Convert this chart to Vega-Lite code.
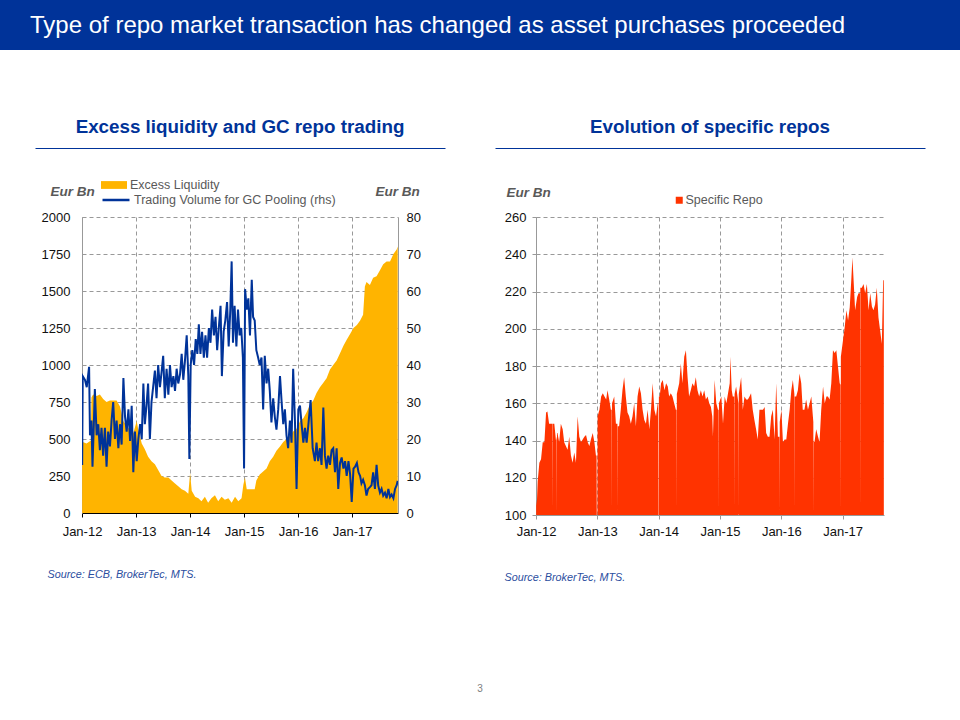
{
  "$schema": "https://vega.github.io/schema/vega-lite/v6.json",
  "padding": 0,
  "background": "white",
  "bounds": "full",
  "center": true,
  "spacing": 68,
  "resolve": {"scale": {"fill": "independent", "stroke": "independent"}},
  "title": {"text": "3", "orient": "bottom", "anchor": "middle", "offset": 102, "fontSize": 10, "fontWeight": "normal", "color": "#808080"},
  "config": {
    "font": "Liberation Sans",
    "view": {"stroke": null},
    "axis": {"labelFont": "Liberation Sans", "labelFontSize": 13, "labelColor": "#111111", "titleFont": "Liberation Sans", "gridColor": "#999999", "gridDash": [4, 3], "gridWidth": 1, "domainColor": "#999999", "tickColor": "#999999", "labelFlush": false, "labelOverlap": false}
  },
  "vconcat": [
    {
      "width": 960,
      "height": 50,
      "view": {"fill": "#003399", "stroke": null},
      "data": {"values": [{"label": "Type of repo market transaction has changed as asset purchases proceeded"}]},
      "mark": {"type": "text", "align": "left", "baseline": "middle", "fontSize": 24, "color": "#ffffff", "font": "Liberation Sans"},
      "encoding": {"text": {"field": "label"}, "x": {"value": 30}, "y": {"value": 26}}
    },
    {
      "bounds": "full",
      "spacing": 50,
      "resolve": {"scale": {"fill": "independent", "stroke": "independent"}},
      "hconcat": [
        {
          "bounds": "flush",
          "center": true,
          "spacing": 69,
          "resolve": {"scale": {"fill": "independent", "stroke": "independent"}},
          "vconcat": [
            {
              "width": 410,
              "height": 1,
              "title": {"text": "Excess liquidity and GC repo trading", "fontSize": 18.8, "fontWeight": "bold", "color": "#003399", "anchor": "middle", "offset": 10},
              "data": {"values": [{"v": 0}, {"v": 1}]},
              "mark": {"type": "point", "opacity": 0, "size": 0},
              "encoding": {"x": {"field": "v", "type": "quantitative", "scale": {"domain": [0, 1]}, "axis": {"domain": true, "domainColor": "#003399", "domainWidth": 1, "ticks": false, "labels": false, "grid": false, "title": null}}}
            },
            {
              "width": 316,
              "height": 296,
              "resolve": {"scale": {"y": "independent", "fill": "independent", "stroke": "independent"}},
              "layer": [
                {
                  "data": {"values": [
                    {"date": "2012-01-02", "liquidity": 500}, {"date": "2012-01-06", "liquidity": 480}, {"date": "2012-02-01", "liquidity": 470}, {"date": "2012-03-01", "liquidity": 490}, {"date": "2012-03-05", "liquidity": 780}, {"date": "2012-03-16", "liquidity": 800}, {"date": "2012-04-09", "liquidity": 790}, {"date": "2012-05-01", "liquidity": 800}, {"date": "2012-05-23", "liquidity": 770}, {"date": "2012-06-15", "liquidity": 750}, {"date": "2012-07-08", "liquidity": 760}, {"date": "2012-07-30", "liquidity": 760}, {"date": "2012-08-22", "liquidity": 760}, {"date": "2012-09-14", "liquidity": 720}, {"date": "2012-10-07", "liquidity": 620}, {"date": "2012-10-29", "liquidity": 590}, {"date": "2012-11-21", "liquidity": 560}, {"date": "2012-12-13", "liquidity": 540}, {"date": "2013-01-05", "liquidity": 620}, {"date": "2013-01-16", "liquidity": 560}, {"date": "2013-02-08", "liquidity": 470}, {"date": "2013-03-01", "liquidity": 430}, {"date": "2013-03-23", "liquidity": 380}, {"date": "2013-04-15", "liquidity": 350}, {"date": "2013-05-08", "liquidity": 330}, {"date": "2013-05-30", "liquidity": 290}, {"date": "2013-06-22", "liquidity": 250}, {"date": "2013-07-14", "liquidity": 240}, {"date": "2013-08-07", "liquidity": 240}, {"date": "2013-08-29", "liquidity": 220}, {"date": "2013-09-21", "liquidity": 200}, {"date": "2013-10-13", "liquidity": 180}, {"date": "2013-11-05", "liquidity": 160}, {"date": "2013-11-27", "liquidity": 150}, {"date": "2013-12-20", "liquidity": 130}, {"date": "2014-01-01", "liquidity": 270}, {"date": "2014-01-12", "liquidity": 150}, {"date": "2014-02-04", "liquidity": 110}, {"date": "2014-02-26", "liquidity": 100}, {"date": "2014-03-19", "liquidity": 80}, {"date": "2014-04-11", "liquidity": 110}, {"date": "2014-05-03", "liquidity": 70}, {"date": "2014-05-25", "liquidity": 100}, {"date": "2014-06-18", "liquidity": 120}, {"date": "2014-07-10", "liquidity": 80}, {"date": "2014-08-02", "liquidity": 110}, {"date": "2014-08-24", "liquidity": 90}, {"date": "2014-09-17", "liquidity": 100}, {"date": "2014-10-09", "liquidity": 70}, {"date": "2014-11-01", "liquidity": 110}, {"date": "2014-11-23", "liquidity": 80}, {"date": "2014-12-15", "liquidity": 100}, {"date": "2014-12-27", "liquidity": 190}, {"date": "2015-01-07", "liquidity": 240}, {"date": "2015-01-19", "liquidity": 160}, {"date": "2015-02-10", "liquidity": 160}, {"date": "2015-03-14", "liquidity": 160}, {"date": "2015-03-25", "liquidity": 220}, {"date": "2015-04-17", "liquidity": 260}, {"date": "2015-05-10", "liquidity": 280}, {"date": "2015-06-02", "liquidity": 300}, {"date": "2015-06-24", "liquidity": 350}, {"date": "2015-07-17", "liquidity": 380}, {"date": "2015-08-08", "liquidity": 420}, {"date": "2015-09-01", "liquidity": 450}, {"date": "2015-09-23", "liquidity": 480}, {"date": "2015-10-15", "liquidity": 500}, {"date": "2015-11-07", "liquidity": 520}, {"date": "2015-11-29", "liquidity": 550}, {"date": "2015-12-22", "liquidity": 570}, {"date": "2016-01-14", "liquidity": 620}, {"date": "2016-02-06", "liquidity": 640}, {"date": "2016-02-28", "liquidity": 680}, {"date": "2016-03-21", "liquidity": 730}, {"date": "2016-04-13", "liquidity": 760}, {"date": "2016-05-05", "liquidity": 810}, {"date": "2016-05-28", "liquidity": 850}, {"date": "2016-06-20", "liquidity": 880}, {"date": "2016-07-12", "liquidity": 910}, {"date": "2016-08-04", "liquidity": 970}, {"date": "2016-08-26", "liquidity": 1000}, {"date": "2016-09-18", "liquidity": 1030}, {"date": "2016-10-11", "liquidity": 1080}, {"date": "2016-11-03", "liquidity": 1130}, {"date": "2016-11-25", "liquidity": 1170}, {"date": "2016-12-18", "liquidity": 1210}, {"date": "2017-01-10", "liquidity": 1250}, {"date": "2017-02-02", "liquidity": 1270}, {"date": "2017-02-24", "liquidity": 1300}, {"date": "2017-03-16", "liquidity": 1340}, {"date": "2017-03-28", "liquidity": 1530}, {"date": "2017-04-08", "liquidity": 1560}, {"date": "2017-05-01", "liquidity": 1540}, {"date": "2017-05-23", "liquidity": 1590}, {"date": "2017-06-15", "liquidity": 1600}, {"date": "2017-07-08", "liquidity": 1640}, {"date": "2017-07-30", "liquidity": 1680}, {"date": "2017-08-22", "liquidity": 1700}, {"date": "2017-09-14", "liquidity": 1700}, {"date": "2017-10-07", "liquidity": 1750}, {"date": "2017-10-29", "liquidity": 1780}, {"date": "2017-11-05", "liquidity": 1800}
                  ]},
                  "mark": {"type": "area", "clip": true},
                  "encoding": {
                    "x": {"field": "date", "type": "temporal",
                      "scale": {"type": "utc", "domain": [{"year": 2012, "month": 1, "date": 1, "utc": true}, {"year": 2017, "month": 11, "date": 7, "utc": true}]},
                      "axis": {"values": [{"year": 2012, "month": 1, "date": 1, "utc": true}, {"year": 2013, "month": 1, "date": 1, "utc": true}, {"year": 2014, "month": 1, "date": 1, "utc": true}, {"year": 2015, "month": 1, "date": 1, "utc": true}, {"year": 2016, "month": 1, "date": 1, "utc": true}, {"year": 2017, "month": 1, "date": 1, "utc": true}],
                        "labelExpr": "utcFormat(datum.value, '%b-%y')", "grid": true, "domainColor": "#000000", "tickColor": "#000000", "tickSize": 4, "labelPadding": 8,
                        "title": "Source: ECB, BrokerTec, MTS.", "titleFontSize": 10.8, "titleFontStyle": "italic", "titleFontWeight": "normal", "titleColor": "#2B4EA0", "titleAlign": "left", "titleBaseline": "middle", "titleX": -35, "titleY": 61}},
                    "y": {"field": "liquidity", "type": "quantitative", "scale": {"domain": [0, 2000], "nice": false},
                      "axis": {"orient": "left", "values": [0, 250, 500, 750, 1000, 1250, 1500, 1750, 2000], "format": "d", "ticks": false, "labelPadding": 12, "grid": true,
                        "title": "Eur Bn", "titleAngle": 0, "titleAlign": "left", "titleBaseline": "middle", "titleX": -32, "titleY": -26, "titleFontSize": 13.5, "titleFontStyle": "italic", "titleFontWeight": "bold", "titleColor": "#595959"}},
                    "fill": {"datum": "Excess Liquidity", "type": "nominal", "scale": {"range": ["#FFB400"]},
                      "legend": {"orient": "none", "legendX": 19, "legendY": -45, "title": null, "symbolType": "M-1,-0.3H1V0.3H-1Z", "symbolSize": 676, "symbolStrokeWidth": 0, "labelFontSize": 12.5, "labelColor": "#595959", "labelFont": "Liberation Sans", "labelOffset": 3, "labelLimit": 400, "padding": 0}}
                  }
                },
                {
                  "data": {"values": [
                    {"date": "2012-01-02", "volume": 13}, {"date": "2012-01-06", "volume": 37}, {"date": "2012-01-21", "volume": 36}, {"date": "2012-02-02", "volume": 34}, {"date": "2012-02-18", "volume": 39.5}, {"date": "2012-02-24", "volume": 21}, {"date": "2012-03-05", "volume": 25}, {"date": "2012-03-12", "volume": 12.5}, {"date": "2012-03-21", "volume": 24}, {"date": "2012-03-28", "volume": 33.5}, {"date": "2012-04-09", "volume": 21}, {"date": "2012-04-20", "volume": 24}, {"date": "2012-05-01", "volume": 17}, {"date": "2012-05-12", "volume": 23}, {"date": "2012-05-23", "volume": 15.5}, {"date": "2012-06-04", "volume": 23}, {"date": "2012-06-15", "volume": 12.5}, {"date": "2012-06-26", "volume": 22}, {"date": "2012-07-08", "volume": 18}, {"date": "2012-07-19", "volume": 25}, {"date": "2012-07-30", "volume": 30}, {"date": "2012-08-11", "volume": 20}, {"date": "2012-08-22", "volume": 25}, {"date": "2012-09-03", "volume": 17.5}, {"date": "2012-09-14", "volume": 24}, {"date": "2012-09-25", "volume": 18.5}, {"date": "2012-10-07", "volume": 36.5}, {"date": "2012-10-18", "volume": 26}, {"date": "2012-10-29", "volume": 22}, {"date": "2012-11-10", "volume": 28}, {"date": "2012-11-21", "volume": 19.5}, {"date": "2012-12-02", "volume": 29}, {"date": "2012-12-13", "volume": 11}, {"date": "2012-12-24", "volume": 22},
                    {"date": "2013-01-05", "volume": 14}, {"date": "2013-01-16", "volume": 20}, {"date": "2013-01-28", "volume": 24}, {"date": "2013-02-08", "volume": 20}, {"date": "2013-02-19", "volume": 35}, {"date": "2013-03-01", "volume": 24}, {"date": "2013-03-12", "volume": 29}, {"date": "2013-03-23", "volume": 35}, {"date": "2013-04-04", "volume": 20}, {"date": "2013-04-15", "volume": 30}, {"date": "2013-04-26", "volume": 34}, {"date": "2013-05-08", "volume": 38.5}, {"date": "2013-05-19", "volume": 31}, {"date": "2013-05-30", "volume": 40}, {"date": "2013-06-11", "volume": 34}, {"date": "2013-06-22", "volume": 38}, {"date": "2013-07-03", "volume": 42.5}, {"date": "2013-07-14", "volume": 31}, {"date": "2013-07-26", "volume": 39}, {"date": "2013-08-07", "volume": 32}, {"date": "2013-08-18", "volume": 40}, {"date": "2013-08-29", "volume": 34}, {"date": "2013-09-10", "volume": 37}, {"date": "2013-09-21", "volume": 33}, {"date": "2013-10-02", "volume": 39}, {"date": "2013-10-13", "volume": 35}, {"date": "2013-10-25", "volume": 37.5}, {"date": "2013-11-05", "volume": 43}, {"date": "2013-11-16", "volume": 36}, {"date": "2013-11-27", "volume": 41}, {"date": "2013-12-09", "volume": 48}, {"date": "2013-12-20", "volume": 37}, {"date": "2013-12-27", "volume": 14.6},
                    {"date": "2014-01-05", "volume": 40}, {"date": "2014-01-16", "volume": 44}, {"date": "2014-01-28", "volume": 40}, {"date": "2014-02-08", "volume": 47}, {"date": "2014-02-19", "volume": 43}, {"date": "2014-03-01", "volume": 51}, {"date": "2014-03-12", "volume": 43}, {"date": "2014-03-23", "volume": 49}, {"date": "2014-04-04", "volume": 42}, {"date": "2014-04-15", "volume": 48}, {"date": "2014-04-26", "volume": 42}, {"date": "2014-05-08", "volume": 50}, {"date": "2014-05-19", "volume": 46}, {"date": "2014-05-30", "volume": 55}, {"date": "2014-06-11", "volume": 48}, {"date": "2014-06-22", "volume": 53}, {"date": "2014-07-03", "volume": 44}, {"date": "2014-07-14", "volume": 50}, {"date": "2014-07-26", "volume": 56}, {"date": "2014-08-04", "volume": 37}, {"date": "2014-08-16", "volume": 49}, {"date": "2014-08-27", "volume": 52}, {"date": "2014-09-08", "volume": 57}, {"date": "2014-09-19", "volume": 45}, {"date": "2014-09-30", "volume": 55}, {"date": "2014-10-09", "volume": 68}, {"date": "2014-10-18", "volume": 46}, {"date": "2014-10-29", "volume": 56}, {"date": "2014-11-10", "volume": 45}, {"date": "2014-11-21", "volume": 55}, {"date": "2014-12-02", "volume": 48}, {"date": "2014-12-13", "volume": 50}, {"date": "2014-12-24", "volume": 42},
                    {"date": "2015-01-01", "volume": 12}, {"date": "2015-01-08", "volume": 60.5}, {"date": "2015-01-19", "volume": 55}, {"date": "2015-01-30", "volume": 58}, {"date": "2015-02-10", "volume": 48}, {"date": "2015-02-22", "volume": 63}, {"date": "2015-03-03", "volume": 53}, {"date": "2015-03-14", "volume": 52}, {"date": "2015-03-25", "volume": 44}, {"date": "2015-04-06", "volume": 42}, {"date": "2015-04-17", "volume": 40}, {"date": "2015-04-29", "volume": 42}, {"date": "2015-05-10", "volume": 28}, {"date": "2015-05-21", "volume": 42.5}, {"date": "2015-06-02", "volume": 35}, {"date": "2015-06-13", "volume": 39}, {"date": "2015-06-24", "volume": 33}, {"date": "2015-07-05", "volume": 24.5}, {"date": "2015-07-17", "volume": 31}, {"date": "2015-07-28", "volume": 26}, {"date": "2015-08-08", "volume": 22.5}, {"date": "2015-08-20", "volume": 28}, {"date": "2015-09-01", "volume": 37}, {"date": "2015-09-12", "volume": 30}, {"date": "2015-09-23", "volume": 24}, {"date": "2015-10-04", "volume": 28}, {"date": "2015-10-15", "volume": 21}, {"date": "2015-10-26", "volume": 17.5}, {"date": "2015-11-07", "volume": 25}, {"date": "2015-11-18", "volume": 19}, {"date": "2015-11-29", "volume": 39}, {"date": "2015-12-11", "volume": 25}, {"date": "2015-12-22", "volume": 6.5},
                    {"date": "2016-01-03", "volume": 28}, {"date": "2016-01-14", "volume": 29}, {"date": "2016-01-25", "volume": 24}, {"date": "2016-02-06", "volume": 19}, {"date": "2016-02-17", "volume": 23}, {"date": "2016-02-28", "volume": 19}, {"date": "2016-03-10", "volume": 23.5}, {"date": "2016-03-26", "volume": 30.5}, {"date": "2016-04-09", "volume": 17.5}, {"date": "2016-04-24", "volume": 14}, {"date": "2016-05-05", "volume": 19}, {"date": "2016-05-16", "volume": 14}, {"date": "2016-05-28", "volume": 17.5}, {"date": "2016-06-08", "volume": 13}, {"date": "2016-06-20", "volume": 28.5}, {"date": "2016-07-01", "volume": 15.5}, {"date": "2016-07-12", "volume": 12}, {"date": "2016-07-23", "volume": 15.5}, {"date": "2016-08-04", "volume": 13}, {"date": "2016-08-15", "volume": 17}, {"date": "2016-08-26", "volume": 17.5}, {"date": "2016-09-07", "volume": 11}, {"date": "2016-09-18", "volume": 17.5}, {"date": "2016-09-29", "volume": 6.5}, {"date": "2016-10-11", "volume": 13.5}, {"date": "2016-10-22", "volume": 15}, {"date": "2016-11-03", "volume": 12}, {"date": "2016-11-14", "volume": 14}, {"date": "2016-11-25", "volume": 10}, {"date": "2016-12-07", "volume": 14}, {"date": "2016-12-18", "volume": 10.5}, {"date": "2016-12-29", "volume": 3},
                    {"date": "2017-01-10", "volume": 12}, {"date": "2017-01-21", "volume": 12.5}, {"date": "2017-02-02", "volume": 13.5}, {"date": "2017-02-13", "volume": 11}, {"date": "2017-02-24", "volume": 10}, {"date": "2017-03-05", "volume": 8}, {"date": "2017-03-16", "volume": 9}, {"date": "2017-03-28", "volume": 7.5}, {"date": "2017-04-08", "volume": 4.7}, {"date": "2017-04-19", "volume": 6.5}, {"date": "2017-05-01", "volume": 7}, {"date": "2017-05-12", "volume": 7.5}, {"date": "2017-05-23", "volume": 11}, {"date": "2017-06-04", "volume": 6.5}, {"date": "2017-06-15", "volume": 13}, {"date": "2017-06-26", "volume": 7.5}, {"date": "2017-07-08", "volume": 5.5}, {"date": "2017-07-19", "volume": 6.5}, {"date": "2017-07-30", "volume": 4.7}, {"date": "2017-08-11", "volume": 5.5}, {"date": "2017-08-22", "volume": 4}, {"date": "2017-09-03", "volume": 6.5}, {"date": "2017-09-14", "volume": 4.3}, {"date": "2017-09-25", "volume": 5}, {"date": "2017-10-07", "volume": 4}, {"date": "2017-10-18", "volume": 6.5}, {"date": "2017-10-29", "volume": 7.5}, {"date": "2017-11-05", "volume": 8.7}
                  ]},
                  "mark": {"type": "line", "strokeWidth": 2, "clip": true},
                  "encoding": {
                    "x": {"field": "date", "type": "temporal"},
                    "y": {"field": "volume", "type": "quantitative", "scale": {"domain": [0, 80], "nice": false},
                      "axis": {"orient": "right", "values": [0, 10, 20, 30, 40, 50, 60, 70, 80], "format": "d", "ticks": false, "labelPadding": 8, "grid": false,
                        "title": "Eur Bn", "titleAngle": 0, "titleAlign": "left", "titleBaseline": "middle", "titleX": -23, "titleY": -26, "titleFontSize": 13.5, "titleFontStyle": "italic", "titleFontWeight": "bold", "titleColor": "#595959"}},
                    "stroke": {"datum": "Trading Volume for  GC Pooling (rhs)", "type": "nominal", "scale": {"range": ["#003399"]},
                      "legend": {"orient": "none", "legendX": 19, "legendY": -32, "title": null, "symbolType": "stroke", "symbolSize": 729, "symbolStrokeWidth": 2.5, "labelFontSize": 12.5, "labelColor": "#595959", "labelFont": "Liberation Sans", "labelOffset": 3, "labelLimit": 400, "padding": 0}}
                  }
                }
              ]
            }
          ]
        },
        {
          "bounds": "flush",
          "center": true,
          "spacing": 69,
          "resolve": {"scale": {"fill": "independent", "stroke": "independent"}},
          "vconcat": [
            {
              "width": 430,
              "height": 1,
              "title": {"text": "Evolution of specific repos", "fontSize": 18.8, "fontWeight": "bold", "color": "#003399", "anchor": "middle", "offset": 10},
              "data": {"values": [{"v": 0}, {"v": 1}]},
              "mark": {"type": "point", "opacity": 0, "size": 0},
              "encoding": {"x": {"field": "v", "type": "quantitative", "scale": {"domain": [0, 1]}, "axis": {"domain": true, "domainColor": "#003399", "domainWidth": 1, "ticks": false, "labels": false, "grid": false, "title": null}}}
            },
            {
              "width": 348,
              "height": 298,
              "data": {"values": [
                {"date": "2012-01-02", "repo": 105}, {"date": "2012-01-07", "repo": 108.5}, {"date": "2012-01-11", "repo": 118}, {"date": "2012-01-21", "repo": 128}, {"date": "2012-01-31", "repo": 130}, {"date": "2012-02-10", "repo": 139}, {"date": "2012-02-20", "repo": 139}, {"date": "2012-03-01", "repo": 155}, {"date": "2012-03-09", "repo": 155.6}, {"date": "2012-03-19", "repo": 149}, {"date": "2012-03-29", "repo": 149}, {"date": "2012-04-08", "repo": 149}, {"date": "2012-04-09", "repo": 100}, {"date": "2012-04-10", "repo": 149}, {"date": "2012-04-19", "repo": 149}, {"date": "2012-04-29", "repo": 140}, {"date": "2012-05-03", "repo": 142}, {"date": "2012-05-04", "repo": 100}, {"date": "2012-05-05", "repo": 144}, {"date": "2012-05-08", "repo": 144}, {"date": "2012-05-18", "repo": 139}, {"date": "2012-05-28", "repo": 149}, {"date": "2012-06-08", "repo": 146}, {"date": "2012-06-17", "repo": 139}, {"date": "2012-06-27", "repo": 137}, {"date": "2012-07-07", "repo": 135}, {"date": "2012-07-17", "repo": 142}, {"date": "2012-07-27", "repo": 132}, {"date": "2012-08-06", "repo": 128}, {"date": "2012-08-16", "repo": 133.6}, {"date": "2012-08-26", "repo": 128}, {"date": "2012-09-05", "repo": 153}, {"date": "2012-09-15", "repo": 142}, {"date": "2012-09-25", "repo": 139}, {"date": "2012-10-05", "repo": 140.5}, {"date": "2012-10-15", "repo": 142}, {"date": "2012-10-25", "repo": 143}, {"date": "2012-11-04", "repo": 139}, {"date": "2012-11-14", "repo": 137}, {"date": "2012-11-23", "repo": 140.5}, {"date": "2012-12-04", "repo": 144}, {"date": "2012-12-14", "repo": 139}, {"date": "2012-12-23", "repo": 132}, {"date": "2012-12-27", "repo": 132}, {"date": "2012-12-28", "repo": 100}, {"date": "2013-01-01", "repo": 100},
                {"date": "2013-01-02", "repo": 153}, {"date": "2013-01-13", "repo": 156.5}, {"date": "2013-01-23", "repo": 163.6}, {"date": "2013-02-02", "repo": 165.4}, {"date": "2013-02-12", "repo": 163.6}, {"date": "2013-02-22", "repo": 162}, {"date": "2013-03-02", "repo": 167}, {"date": "2013-03-12", "repo": 162}, {"date": "2013-03-22", "repo": 156.5}, {"date": "2013-03-27", "repo": 156.5}, {"date": "2013-03-28", "repo": 100}, {"date": "2013-03-29", "repo": 160}, {"date": "2013-04-11", "repo": 163.6}, {"date": "2013-04-21", "repo": 149}, {"date": "2013-04-30", "repo": 149}, {"date": "2013-05-01", "repo": 100}, {"date": "2013-05-02", "repo": 147.6}, {"date": "2013-05-10", "repo": 147.6}, {"date": "2013-05-20", "repo": 156.5}, {"date": "2013-05-30", "repo": 167}, {"date": "2013-06-09", "repo": 174}, {"date": "2013-06-19", "repo": 163.6}, {"date": "2013-06-29", "repo": 155}, {"date": "2013-07-09", "repo": 153}, {"date": "2013-07-19", "repo": 149}, {"date": "2013-07-29", "repo": 153}, {"date": "2013-08-08", "repo": 160}, {"date": "2013-08-18", "repo": 147.6}, {"date": "2013-08-28", "repo": 163.6}, {"date": "2013-09-07", "repo": 169}, {"date": "2013-09-17", "repo": 165.4}, {"date": "2013-09-27", "repo": 156.5}, {"date": "2013-10-07", "repo": 151}, {"date": "2013-10-17", "repo": 149}, {"date": "2013-10-27", "repo": 156.5}, {"date": "2013-11-06", "repo": 146}, {"date": "2013-11-16", "repo": 156.5}, {"date": "2013-11-26", "repo": 170.8}, {"date": "2013-12-06", "repo": 156.5}, {"date": "2013-12-16", "repo": 153}, {"date": "2013-12-26", "repo": 160}, {"date": "2013-12-29", "repo": 160}, {"date": "2013-12-30", "repo": 100}, {"date": "2014-01-01", "repo": 100},
                {"date": "2014-01-02", "repo": 163.6}, {"date": "2014-01-07", "repo": 163.6}, {"date": "2014-01-15", "repo": 170.8}, {"date": "2014-01-25", "repo": 172.5}, {"date": "2014-02-04", "repo": 167}, {"date": "2014-02-14", "repo": 170.8}, {"date": "2014-02-24", "repo": 169}, {"date": "2014-03-04", "repo": 163.6}, {"date": "2014-03-14", "repo": 165.4}, {"date": "2014-03-24", "repo": 163.6}, {"date": "2014-04-03", "repo": 160}, {"date": "2014-04-13", "repo": 156.5}, {"date": "2014-04-17", "repo": 156.5}, {"date": "2014-04-18", "repo": 100}, {"date": "2014-04-19", "repo": 165}, {"date": "2014-05-03", "repo": 170.8}, {"date": "2014-05-13", "repo": 181.4}, {"date": "2014-05-22", "repo": 170.8}, {"date": "2014-06-02", "repo": 185}, {"date": "2014-06-12", "repo": 188.5}, {"date": "2014-06-22", "repo": 174}, {"date": "2014-07-01", "repo": 163.6}, {"date": "2014-07-11", "repo": 167}, {"date": "2014-07-21", "repo": 170.8}, {"date": "2014-07-31", "repo": 169}, {"date": "2014-08-10", "repo": 174}, {"date": "2014-08-20", "repo": 167}, {"date": "2014-08-30", "repo": 163.6}, {"date": "2014-09-09", "repo": 167}, {"date": "2014-09-19", "repo": 163.6}, {"date": "2014-09-29", "repo": 167}, {"date": "2014-10-09", "repo": 162}, {"date": "2014-10-19", "repo": 163.6}, {"date": "2014-10-29", "repo": 160}, {"date": "2014-11-08", "repo": 158}, {"date": "2014-11-16", "repo": 153}, {"date": "2014-11-20", "repo": 142}, {"date": "2014-11-30", "repo": 172.5}, {"date": "2014-12-10", "repo": 160}, {"date": "2014-12-20", "repo": 156.5}, {"date": "2014-12-24", "repo": 156.5}, {"date": "2014-12-25", "repo": 100}, {"date": "2014-12-26", "repo": 160},
                {"date": "2015-01-09", "repo": 163.6}, {"date": "2015-01-19", "repo": 149}, {"date": "2015-01-29", "repo": 163.6}, {"date": "2015-02-08", "repo": 160}, {"date": "2015-02-18", "repo": 165.4}, {"date": "2015-02-28", "repo": 170.8}, {"date": "2015-03-04", "repo": 185}, {"date": "2015-03-12", "repo": 167}, {"date": "2015-03-18", "repo": 163.6}, {"date": "2015-03-27", "repo": 163.6}, {"date": "2015-03-28", "repo": 100}, {"date": "2015-03-29", "repo": 165}, {"date": "2015-04-07", "repo": 169}, {"date": "2015-04-21", "repo": 160}, {"date": "2015-04-22", "repo": 100}, {"date": "2015-04-23", "repo": 165}, {"date": "2015-05-07", "repo": 174}, {"date": "2015-05-17", "repo": 156.5}, {"date": "2015-05-27", "repo": 163.6}, {"date": "2015-06-06", "repo": 162}, {"date": "2015-06-16", "repo": 162}, {"date": "2015-06-26", "repo": 163.6}, {"date": "2015-07-05", "repo": 165.4}, {"date": "2015-07-15", "repo": 156.5}, {"date": "2015-07-25", "repo": 151}, {"date": "2015-08-04", "repo": 146}, {"date": "2015-08-14", "repo": 140.5}, {"date": "2015-08-24", "repo": 156.5}, {"date": "2015-09-04", "repo": 156.5}, {"date": "2015-09-14", "repo": 156.5}, {"date": "2015-09-24", "repo": 158}, {"date": "2015-10-03", "repo": 144}, {"date": "2015-10-13", "repo": 142}, {"date": "2015-10-23", "repo": 142}, {"date": "2015-11-02", "repo": 153}, {"date": "2015-11-12", "repo": 156.5}, {"date": "2015-11-22", "repo": 140.5}, {"date": "2015-12-02", "repo": 170.8}, {"date": "2015-12-12", "repo": 142}, {"date": "2015-12-21", "repo": 142}, {"date": "2015-12-22", "repo": 100}, {"date": "2015-12-23", "repo": 150},
                {"date": "2016-01-02", "repo": 156.5}, {"date": "2016-01-11", "repo": 139}, {"date": "2016-01-21", "repo": 140.5}, {"date": "2016-01-31", "repo": 140.5}, {"date": "2016-02-10", "repo": 149}, {"date": "2016-02-20", "repo": 156.5}, {"date": "2016-03-01", "repo": 167}, {"date": "2016-03-10", "repo": 172.5}, {"date": "2016-03-19", "repo": 165}, {"date": "2016-03-20", "repo": 100}, {"date": "2016-03-21", "repo": 163.6}, {"date": "2016-03-30", "repo": 163.6}, {"date": "2016-04-09", "repo": 167}, {"date": "2016-04-19", "repo": 176}, {"date": "2016-04-29", "repo": 170.8}, {"date": "2016-05-08", "repo": 156.5}, {"date": "2016-05-18", "repo": 156.5}, {"date": "2016-05-28", "repo": 162}, {"date": "2016-06-08", "repo": 156.5}, {"date": "2016-06-18", "repo": 160}, {"date": "2016-06-28", "repo": 163.6}, {"date": "2016-07-10", "repo": 150}, {"date": "2016-07-11", "repo": 100}, {"date": "2016-07-12", "repo": 140}, {"date": "2016-07-17", "repo": 139}, {"date": "2016-07-27", "repo": 146}, {"date": "2016-08-07", "repo": 142}, {"date": "2016-08-16", "repo": 139}, {"date": "2016-08-26", "repo": 156.5}, {"date": "2016-09-06", "repo": 169}, {"date": "2016-09-16", "repo": 160}, {"date": "2016-09-26", "repo": 163.6}, {"date": "2016-10-05", "repo": 163.6}, {"date": "2016-10-15", "repo": 162}, {"date": "2016-10-25", "repo": 170.8}, {"date": "2016-11-04", "repo": 188.5}, {"date": "2016-11-14", "repo": 187}, {"date": "2016-11-24", "repo": 188.5}, {"date": "2016-12-04", "repo": 179.6}, {"date": "2016-12-14", "repo": 170.8}, {"date": "2016-12-19", "repo": 170}, {"date": "2016-12-20", "repo": 100}, {"date": "2016-12-21", "repo": 185},
                {"date": "2017-01-03", "repo": 193.9}, {"date": "2017-01-13", "repo": 201}, {"date": "2017-01-23", "repo": 210}, {"date": "2017-02-02", "repo": 204.4}, {"date": "2017-02-12", "repo": 211.6}, {"date": "2017-02-22", "repo": 227.6}, {"date": "2017-02-28", "repo": 238.3}, {"date": "2017-03-08", "repo": 224}, {"date": "2017-03-16", "repo": 210}, {"date": "2017-03-28", "repo": 217}, {"date": "2017-04-05", "repo": 219}, {"date": "2017-04-14", "repo": 219}, {"date": "2017-04-15", "repo": 100}, {"date": "2017-04-16", "repo": 222}, {"date": "2017-04-25", "repo": 222}, {"date": "2017-05-05", "repo": 224}, {"date": "2017-05-15", "repo": 219}, {"date": "2017-05-25", "repo": 224}, {"date": "2017-06-04", "repo": 210}, {"date": "2017-06-14", "repo": 219}, {"date": "2017-06-24", "repo": 212}, {"date": "2017-07-03", "repo": 210}, {"date": "2017-07-13", "repo": 213}, {"date": "2017-07-23", "repo": 222}, {"date": "2017-08-02", "repo": 206}, {"date": "2017-08-12", "repo": 199}, {"date": "2017-08-22", "repo": 192}, {"date": "2017-08-30", "repo": 226}, {"date": "2017-09-03", "repo": 226}
              ]},
              "mark": {"type": "area", "clip": true},
              "encoding": {
                "x": {"field": "date", "type": "temporal",
                  "scale": {"type": "utc", "domain": [{"year": 2012, "month": 1, "date": 1, "utc": true}, {"year": 2017, "month": 9, "date": 4, "utc": true}]},
                  "axis": {"values": [{"year": 2012, "month": 1, "date": 1, "utc": true}, {"year": 2013, "month": 1, "date": 1, "utc": true}, {"year": 2014, "month": 1, "date": 1, "utc": true}, {"year": 2015, "month": 1, "date": 1, "utc": true}, {"year": 2016, "month": 1, "date": 1, "utc": true}, {"year": 2017, "month": 1, "date": 1, "utc": true}],
                    "labelExpr": "utcFormat(datum.value, '%b-%y')", "grid": true, "tickSize": 4, "labelPadding": 6,
                    "title": "Source: BrokerTec, MTS.", "titleFontSize": 10.8, "titleFontStyle": "italic", "titleFontWeight": "normal", "titleColor": "#2B4EA0", "titleAlign": "left", "titleBaseline": "middle", "titleX": -32, "titleY": 62}},
                "y": {"field": "repo", "type": "quantitative", "scale": {"domain": [100, 260], "nice": false, "zero": false},
                  "axis": {"values": [100, 120, 140, 160, 180, 200, 220, 240, 260], "tickSize": 4, "labelPadding": 6, "grid": true,
                    "title": "Eur Bn", "titleAngle": 0, "titleAlign": "left", "titleBaseline": "middle", "titleX": -30, "titleY": -25, "titleFontSize": 13.5, "titleFontStyle": "italic", "titleFontWeight": "bold", "titleColor": "#595959"}},
                "fill": {"datum": "Specific Repo", "type": "nominal", "scale": {"range": ["#FF3300"]},
                  "legend": {"orient": "none", "legendX": 137, "legendY": -23, "title": null, "symbolType": "square", "symbolSize": 49, "symbolStrokeWidth": 0, "labelFontSize": 12.5, "labelColor": "#595959", "labelFont": "Liberation Sans", "labelOffset": 0, "padding": 0}}
              }
            }
          ]
        }
      ]
    }
  ]
}
